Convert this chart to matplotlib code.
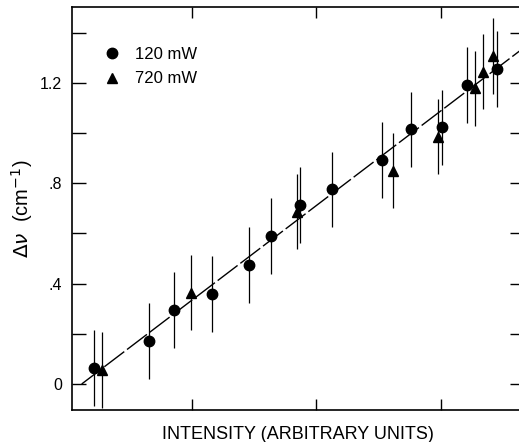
import numpy as np
import matplotlib
matplotlib.use('Agg')
from matplotlib import pyplot as plt
from matplotlib.ticker import FixedLocator, NullFormatter

plt.rcParams['font.family'] = ['Liberation Sans', 'DejaVu Sans']
plt.rcParams['mathtext.fontset'] = 'dejavusans'

# 120 mW points (intensity in arbitrary units, shift in cm^-1)
x_120 = [0.210, 0.652, 0.853, 1.161, 1.458, 1.635, 1.867, 2.122, 2.524, 2.759, 3.006, 3.206, 3.447]
y_120 = [0.064, 0.171, 0.295, 0.359, 0.474, 0.590, 0.713, 0.776, 0.892, 1.014, 1.022, 1.191, 1.254]
err_120 = [0.15, 0.15, 0.15, 0.15, 0.15, 0.15, 0.15, 0.15, 0.15, 0.15, 0.15, 0.15, 0.15]

# 720 mW points
x_720 = [0.277, 0.992, 1.841, 2.617, 2.973, 3.273, 3.335, 3.415]
y_720 = [0.056, 0.364, 0.686, 0.849, 0.985, 1.178, 1.244, 1.306]
err_720 = [0.15, 0.15, 0.15, 0.15, 0.15, 0.15, 0.15, 0.15]

# fitted straight line (end points)
fit_x = [0.114, 3.67]
fit_y = [0.0, 1.341]

fig = plt.figure(figsize=(5.19, 4.42), dpi=100)
ax = fig.add_axes([0.1387, 0.0724, 0.871, 0.912])

ax.plot(fit_x, fit_y, color='k', lw=1.0, dashes=(18, 2.5), zorder=1)

eb1 = ax.errorbar(x_120, y_120, yerr=err_120, fmt='o', color='k', ms=7.5,
                  elinewidth=0.9, capsize=0, zorder=3)
eb2 = ax.errorbar(x_720, y_720, yerr=err_720, fmt='^', color='k', ms=7.5,
                  elinewidth=0.9, capsize=0, zorder=3)

ax.set_xlim(0.036, 3.667)
ax.set_ylim(-0.1036, 1.502)

ax.xaxis.set_major_locator(FixedLocator([1, 2, 3]))
ax.xaxis.set_major_formatter(NullFormatter())
ax.yaxis.set_major_locator(FixedLocator([0, 0.4, 0.8, 1.2]))
ax.yaxis.set_minor_locator(FixedLocator([0.2, 0.6, 1.0, 1.4]))
ax.set_yticklabels(['0', '.4', '.8', '1.2'])

ax.tick_params(axis='x', which='both', direction='in', length=8, width=1,
               top=True, bottom=True)
ax.tick_params(axis='y', which='both', direction='in', length=10, width=1,
               left=True, right=True, labelsize=11.5, pad=7)

for sp in ax.spines.values():
    sp.set_linewidth(1.2)

ax.set_xlabel('INTENSITY (ARBITRARY UNITS)', fontsize=13, labelpad=8)
ax.set_ylabel(r'$\Delta\nu$  (cm$^{-1}$)', fontsize=14.5, labelpad=4)

ax.legend(handles=[eb1[0], eb2[0]], labels=['120 mW', '720 mW'],
          loc='upper left', bbox_to_anchor=(0.071, 0.90), frameon=False,
          fontsize=12, handletextpad=0.85, labelspacing=0.55,
          handlelength=1.0, borderpad=0, borderaxespad=0)

plt.savefig('out.png', dpi=100)
